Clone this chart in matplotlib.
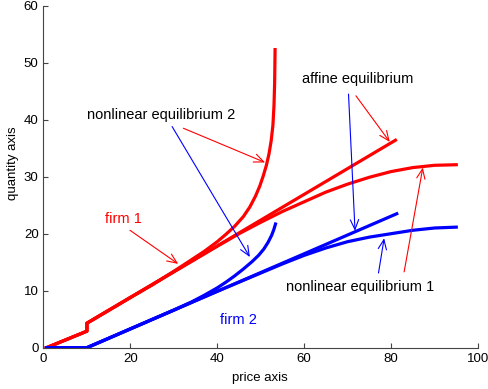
import matplotlib
matplotlib.use("Agg")
import matplotlib.pyplot as plt

plt.rcParams['font.family'] = ['Liberation Sans', 'DejaVu Sans']

# firm 1 (red)
red_nl2_x = [0.7, 10, 10, 20, 25, 30, 34, 37, 40, 42, 44, 46, 47.5, 48.8, 49.8, 50.6, 51.3, 51.9, 52.4, 52.8, 53.05, 53.2, 53.3]
red_nl2_y = [0, 2.9, 4.3, 8.8, 11.0, 13.4, 15.4, 16.9, 18.6, 19.9, 21.3, 23.0, 24.7, 26.6, 28.4, 30.2, 32.0, 34.0, 36.3, 39.0, 42.5, 46.5, 52.3]

red_aff_x = [0.7, 10, 10, 81]
red_aff_y = [0, 2.9, 4.3, 36.4]

red_nl1_x = [0.7, 10, 10, 20, 30, 40, 45, 50, 55, 60, 65, 70, 75, 80, 85, 90, 95]
red_nl1_y = [0, 2.9, 4.3, 8.8, 13.3, 17.8, 20.0, 22.0, 23.9, 25.6, 27.3, 28.7, 29.9, 30.9, 31.6, 32.0, 32.1]

# firm 2 (blue)
blue_nl2_x = [0.7, 10, 20, 30, 34, 37, 40, 42, 44, 46, 48, 49.5, 50.7, 51.7, 52.5, 53.0, 53.4]
blue_nl2_y = [0, 0, 3.3, 6.6, 8.0, 9.2, 10.5, 11.5, 12.6, 13.8, 15.1, 16.2, 17.3, 18.5, 19.7, 20.7, 21.7]

blue_aff_x = [0.7, 10, 81.3]
blue_aff_y = [0, 0, 23.5]

blue_nl1_x = [0.7, 10, 20, 30, 40, 50, 55, 60, 65, 70, 75, 80, 85, 90, 95]
blue_nl1_y = [0, 0, 3.3, 6.6, 9.9, 13.1, 14.7, 16.2, 17.5, 18.6, 19.4, 20.0, 20.6, 21.0, 21.15]

# annotation texts: (label, x, y, colour)
labels = [
    ("nonlinear equilibrium 2", 27.0, 40.8, "black"),
    ("affine equilibrium", 72.4, 47.1, "black"),
    ("nonlinear equilibrium 1", 72.8, 10.7, "black"),
    ("firm 1", 18.5, 22.5, "red"),
    ("firm 2", 44.8, 4.9, "blue"),
]

# arrows: (tail, tip, colour)
arrows = [
    ((32.2, 38.5), (51.0, 32.5), "red"),
    ((29.6, 38.8), (47.5, 15.9), "blue"),
    ((19.9, 20.6), (31.0, 14.7), "red"),
    ((70.2, 44.5), (71.7, 20.5), "blue"),
    ((71.9, 44.2), (79.7, 36.1), "red"),
    ((77.1, 13.1), (78.4, 19.2), "blue"),
    ((83.0, 13.3), (87.3, 31.6), "red"),
]

fig = plt.figure(figsize=(4.88, 3.89), dpi=100)
ax = fig.add_axes([0.0891, 0.1062, 0.8904, 0.8791])

lw = 2.3
ax.plot(red_nl2_x, red_nl2_y, color="red", lw=lw)
ax.plot(red_aff_x, red_aff_y, color="red", lw=lw)
ax.plot(red_nl1_x, red_nl1_y, color="red", lw=lw)
ax.plot(blue_nl2_x, blue_nl2_y, color="blue", lw=lw)
ax.plot(blue_aff_x, blue_aff_y, color="blue", lw=lw)
ax.plot(blue_nl1_x, blue_nl1_y, color="blue", lw=lw)

for tail, tip, c in arrows:
    ax.annotate("", xy=tip, xytext=tail,
                arrowprops=dict(arrowstyle="->,head_length=0.7,head_width=0.3",
                                color=c, lw=0.8, shrinkA=0, shrinkB=0))

for txt, x, y, c in labels:
    ax.text(x, y, txt, color=c, fontsize=10.5, ha="center", va="center")

ax.set_xlim(0, 100)
ax.set_ylim(0, 60)
ax.set_xticks([0, 20, 40, 60, 80, 100])
ax.set_yticks([0, 10, 20, 30, 40, 50, 60])
ax.spines["top"].set_visible(False)
ax.spines["right"].set_visible(False)
for s in ("left", "bottom"):
    ax.spines[s].set_color("#444444")
    ax.spines[s].set_linewidth(0.8)
ax.tick_params(direction="in", length=3.5, width=0.8, color="#444444",
               labelsize=9.5, labelcolor="black")

ax.set_xlabel("price axis", fontsize=9.5)
ax.set_ylabel("quantity axis", fontsize=9.5)
ax.xaxis.set_label_coords(0.498, -0.072)
ax.yaxis.set_label_coords(-0.056, 0.539)

fig.savefig("out.png", dpi=100)
